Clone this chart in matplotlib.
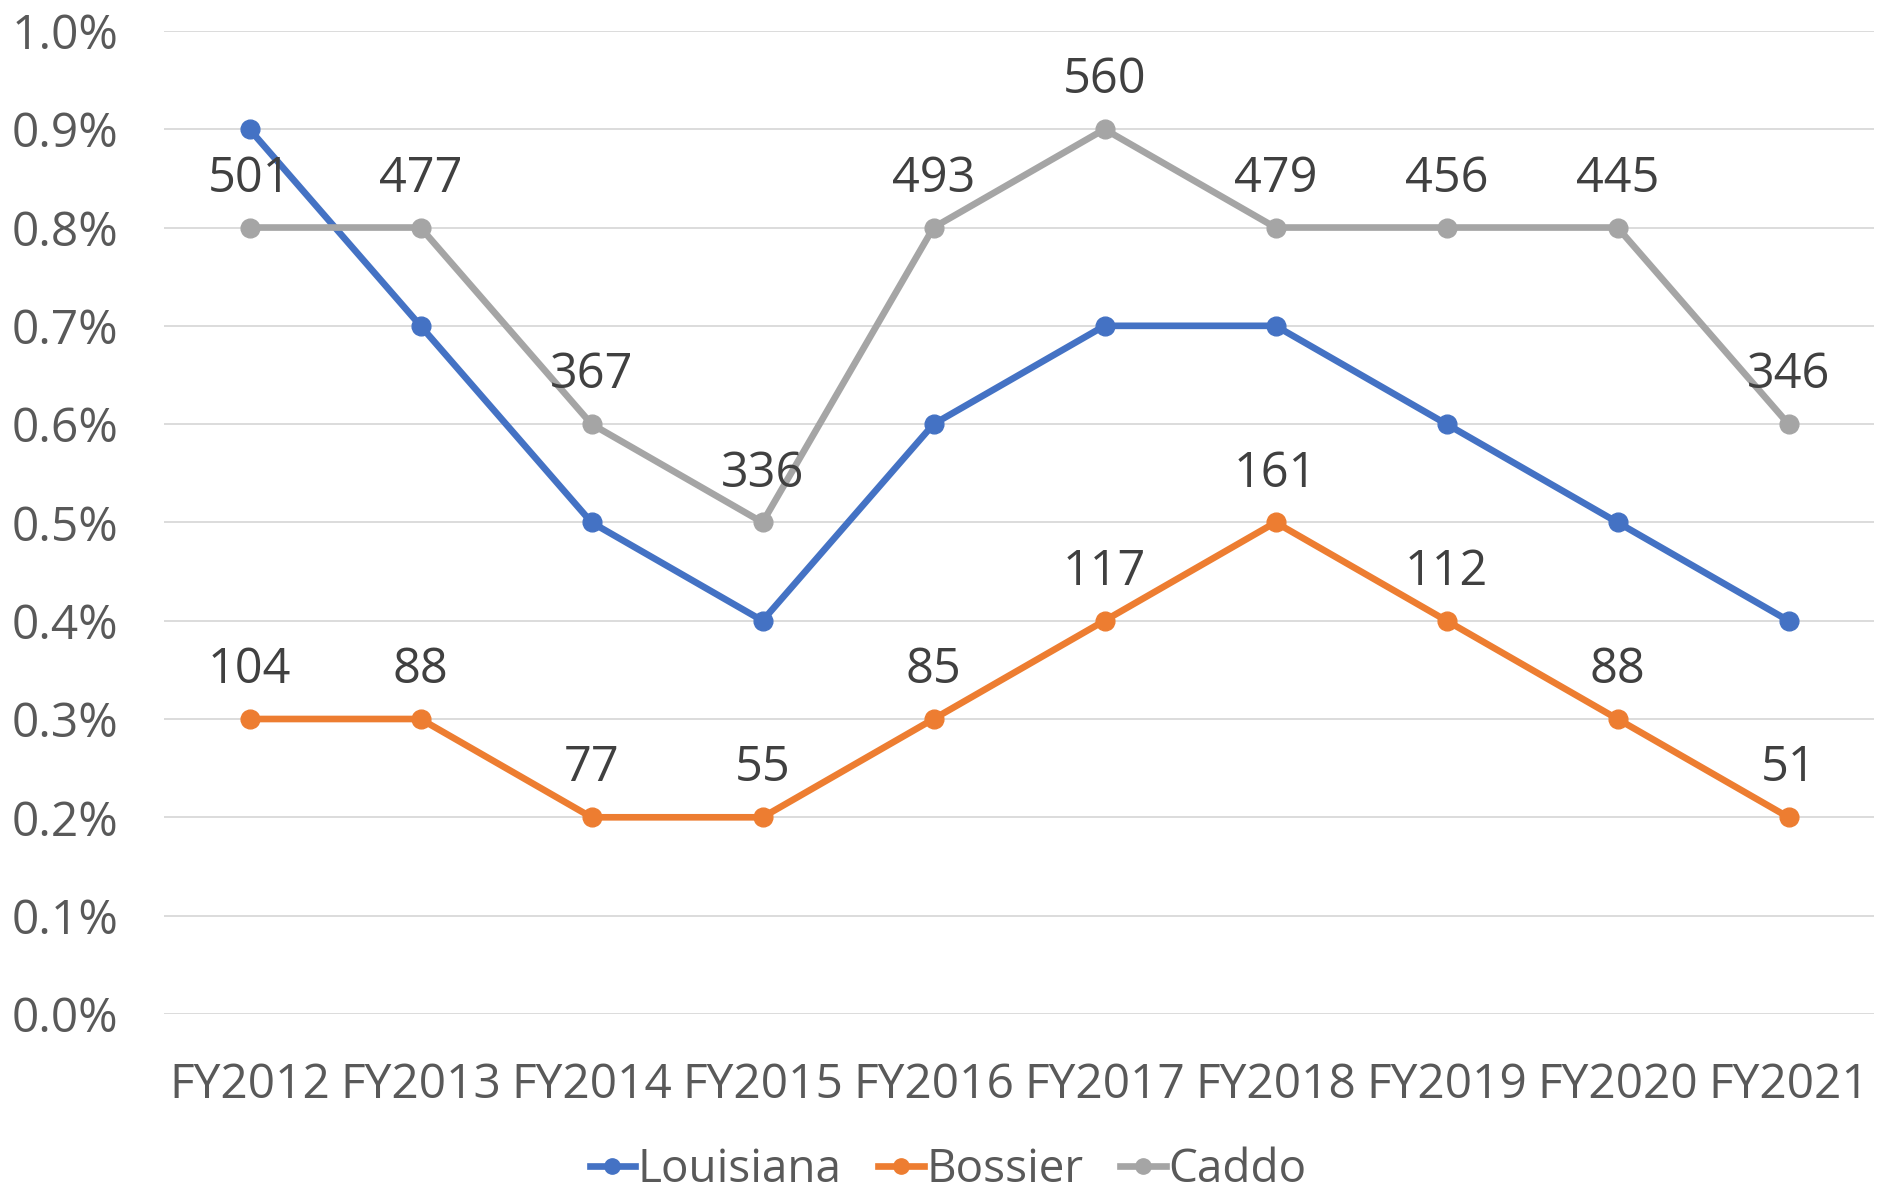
import matplotlib
matplotlib.use("Agg")
import matplotlib.pyplot as plt
from matplotlib.ticker import FuncFormatter

years = ["FY2012", "FY2013", "FY2014", "FY2015", "FY2016", "FY2017", "FY2018", "FY2019", "FY2020", "FY2021"]
louisiana = [0.9, 0.7, 0.5, 0.4, 0.6, 0.7, 0.7, 0.6, 0.5, 0.4]
bossier = [0.3, 0.3, 0.2, 0.2, 0.3, 0.4, 0.5, 0.4, 0.3, 0.2]
caddo = [0.8, 0.8, 0.6, 0.5, 0.8, 0.9, 0.8, 0.8, 0.8, 0.6]
bossier_counts = [104, 88, 77, 55, 85, 117, 161, 112, 88, 51]
caddo_counts = [501, 477, 367, 336, 493, 560, 479, 456, 445, 346]

plt.rcParams['font.family'] = ['Open Sans', 'DejaVu Sans']

fig = plt.figure(figsize=(18.81, 11.90), dpi=100)
ax = fig.add_axes([0.0872, 0.148, 0.9091, 0.826])

x = list(range(len(years)))
lw = 4.8
ms = 13.5
ax.plot(x, louisiana, color="#4472C4", lw=lw, marker="o", ms=ms, label="Louisiana", zorder=3)
ax.plot(x, bossier, color="#ED7D31", lw=lw, marker="o", ms=ms, label="Bossier", zorder=3)
ax.plot(x, caddo, color="#A5A5A5", lw=lw, marker="o", ms=ms, label="Caddo", zorder=3)

for xi, v, c in zip(x, caddo, caddo_counts):
    ax.annotate(str(c), (xi, v), xytext=(0, 35), textcoords="offset points",
                ha="center", va="center", fontsize=35, color="#404040", zorder=4)
for xi, v, c in zip(x, bossier, bossier_counts):
    ax.annotate(str(c), (xi, v), xytext=(0, 35), textcoords="offset points",
                ha="center", va="center", fontsize=35, color="#404040", zorder=4)

ax.set_xlim(-0.5, len(years) - 0.5)
ax.set_ylim(0, 1.0)
ax.set_yticks([i / 10 for i in range(11)])
ax.yaxis.set_major_formatter(FuncFormatter(lambda v, p: f"{v:.1f}%"))
ax.set_xticks(x)
ax.set_xticklabels(years)
ax.tick_params(axis="both", length=0, labelsize=34.5, labelcolor="#595959")
ax.tick_params(axis="x", pad=34)
ax.tick_params(axis="y", pad=33)
ax.grid(axis="y", color="#D9D9D9", lw=1.3)
ax.set_axisbelow(True)
for s in ax.spines.values():
    s.set_visible(False)

leg = fig.legend(loc="center", bbox_to_anchor=(0.504, 0.017), ncol=3, frameon=False,
                 fontsize=33, handlelength=1.0, handletextpad=0.05, columnspacing=0.8,
                 labelcolor="#595959")
for h in leg.legend_handles:
    h.set_markersize(11)

fig.savefig("out.png", dpi=100)
